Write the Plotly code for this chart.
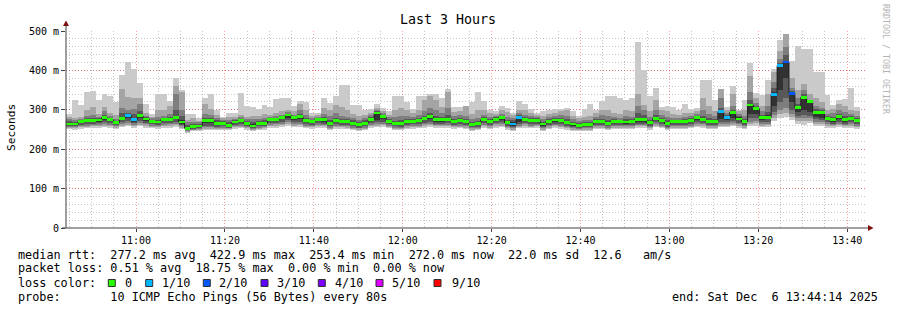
import plotly.graph_objects as go
from datetime import datetime, timedelta

# ---------------- data (ms) ----------------
START = datetime(2025, 12, 6, 10, 44, 14)
END = datetime(2025, 12, 6, 13, 44, 14)
STEP_S = 80

median = [264,264,270,272,273,274,280,275,267,278,
          286,275,285,277,270,269,275,276,280,269,
          253,258,259,272,272,265,265,261,269,272,
          266,259,265,266,275,276,280,287,280,283,
          273,270,275,275,266,272,270,270,266,262,
          266,276,292,283,271,265,265,270,271,273,
          278,283,275,275,276,270,273,270,263,265,
          275,270,276,280,268,264,280,276,273,273,
          264,270,274,272,268,264,261,263,263,270,
          270,266,270,270,269,270,275,275,268,278,
          273,265,270,270,270,273,280,276,270,270,
          295,281,294,277,270,312,303,280,280,339,
          412,421,342,306,332,321,294,294,278,275,
          283,275,278,272]

p10 = [290,324,313,346,348,325,341,334,319,389,
       422,404,369,315,290,341,341,323,381,351,
       289,289,279,331,340,300,283,292,292,342,
       310,307,303,313,308,327,329,329,310,322,
       320,293,292,330,317,336,363,363,312,312,
       300,302,314,304,298,334,334,320,302,336,
       336,341,341,330,352,308,307,310,321,344,
       323,300,296,310,304,293,323,315,302,293,
       296,300,302,302,304,296,285,302,315,300,
       323,336,334,331,325,329,473,400,334,355,
       307,310,308,300,315,302,304,376,376,325,
       353,308,361,300,325,420,342,338,376,403,
       476,493,425,462,455,455,396,396,338,313,
       325,327,355,308]

p9 = [281,280,282,300,306,289,308,293,286,352,
      333,330,330,292,283,300,300,310,360,345,
      275,278,272,315,302,288,278,282,281,288,
      282,285,284,290,288,292,296,300,296,315,
      300,284,286,305,300,312,308,300,290,285,
      287,292,304,296,288,300,305,300,292,300,
      325,334,325,308,346,294,296,310,290,300,
      300,291,290,300,294,286,300,300,292,287,
      285,290,293,298,300,285,278,282,284,292,
      300,300,292,290,300,296,340,312,296,326,
      300,296,290,288,292,292,296,330,310,296,
      353,300,340,296,300,385,330,310,340,395,
      450,493,380,350,365,340,330,320,300,303,
      315,310,300,296]

p8 = [276,274,277,284,287,282,296,284,276,304,
      300,303,314,284,278,281,285,290,340,300,
      268,270,268,290,286,280,274,274,277,281,
      276,276,276,280,282,284,288,294,288,300,
      286,278,281,290,285,292,285,282,280,275,
      279,286,300,291,282,282,285,285,283,286,
      298,305,300,292,304,284,286,284,276,280,
      286,283,285,290,282,279,292,288,284,282,
      276,281,285,286,284,276,272,274,275,282,
      286,285,282,280,284,283,310,300,283,300,
      288,282,280,280,282,284,289,300,290,284,
      330,293,310,290,285,345,318,296,310,370,
      430,460,355,330,350,325,310,305,290,292,
      300,295,290,285]

p7 = [271,270,274,278,280,278,286,279,271,292,
      291,289,296,281,274,275,280,282,300,285,
      262,265,265,280,280,274,271,269,274,277,
      272,268,271,274,279,280,284,290,284,290,
      279,274,278,282,275,280,277,276,273,269,
      273,282,297,288,277,272,274,276,277,279,
      285,292,285,282,288,277,280,277,270,272,
      281,277,281,285,275,274,288,282,279,278,
      270,276,280,279,276,270,267,269,269,276,
      277,274,276,275,276,276,292,288,275,288,
      280,273,275,275,276,278,285,285,278,277,
      305,288,300,285,277,325,310,288,295,355,
      420,440,348,316,340,323,302,300,284,283,
      290,284,284,278]

p6 = [267,267,272,275,276,276,282,277,269,283,
      288,280,288,279,272,272,277,278,284,274,
      257,261,262,277,277,269,268,265,272,275,
      269,263,268,270,277,278,282,289,282,286,
      276,272,277,278,270,275,273,273,269,265,
      269,279,295,286,274,268,268,273,274,276,
      281,287,279,278,280,273,276,273,266,268,
      278,273,279,283,271,268,285,279,276,276,
      267,273,277,275,271,267,264,266,266,273,
      273,270,273,273,272,273,279,278,271,283,
      276,268,273,273,273,276,283,280,274,274,
      298,285,297,282,274,316,306,284,286,345,
      416,425,345,310,335,322,298,297,281,279,
      286,279,281,275]

p5 = [262,261,266,268,269,270,275,271,264,274,
      279,270,280,272,267,266,271,272,276,265,
      250,255,256,266,266,261,261,258,266,268,
      263,256,262,263,271,272,276,280,274,277,
      269,266,271,270,262,268,266,266,262,258,
      262,272,275,276,267,262,261,266,267,269,
      273,277,270,270,271,266,269,266,259,261,
      271,266,272,275,264,260,268,272,269,269,
      260,266,270,268,264,260,257,259,259,266,
      266,262,266,266,265,266,270,270,264,274,
      269,261,266,266,266,269,275,272,266,266,
      276,274,280,273,266,290,290,275,276,310,
      350,380,320,295,300,295,282,280,273,270,
      277,270,273,268]

p4 = [259,258,262,264,265,266,268,266,261,268,
      272,266,272,267,263,262,266,267,270,261,
      248,252,253,260,260,257,258,255,262,264,
      259,253,258,259,266,267,270,273,268,270,
      264,262,266,265,258,263,262,261,258,255,
      258,266,268,270,263,258,257,262,263,264,
      267,270,265,265,266,262,264,262,256,257,
      266,262,267,269,260,256,263,267,264,265,
      256,262,265,263,260,256,254,256,256,262,
      262,258,262,262,261,262,265,265,260,268,
      264,257,262,262,262,264,269,267,262,262,
      268,268,272,267,262,278,280,269,270,295,
      320,330,300,285,288,285,276,274,268,265,
      270,265,268,263]

p3 = [256,256,259,260,261,262,264,262,258,264,
      266,262,266,263,260,259,262,263,265,258,
      246,250,251,256,256,254,255,253,259,260,
      256,251,255,256,262,263,265,268,264,265,
      260,259,262,261,255,259,259,258,255,253,
      255,262,264,265,260,255,254,258,259,260,
      263,265,261,261,262,259,260,258,253,254,
      262,258,263,264,257,253,260,263,260,261,
      253,258,261,259,257,253,251,253,253,258,
      258,255,258,258,258,258,261,261,257,264,
      260,254,258,258,258,260,264,263,258,258,
      264,264,266,263,258,270,272,264,265,286,
      300,305,290,278,280,278,270,268,263,261,
      265,261,263,259]

p2 = [254,253,256,257,258,259,260,258,255,260,
      262,259,262,259,257,256,259,259,261,255,
      244,248,249,252,252,251,252,251,256,257,
      253,249,252,253,258,259,261,263,260,261,
      257,256,259,258,252,256,256,255,252,250,
      252,258,260,261,257,252,251,255,256,257,
      259,261,258,258,258,256,257,255,250,251,
      258,255,259,260,254,250,257,259,257,258,
      250,255,258,256,254,250,248,250,250,255,
      255,252,255,255,255,255,258,258,254,260,
      257,251,255,255,255,257,260,259,255,255,
      260,260,262,259,255,264,266,260,261,280,
      290,292,282,272,272,272,265,263,259,258,
      261,258,259,256]

p1 = [251,250,252,253,254,255,256,254,252,256,
      258,255,258,255,253,252,255,255,257,251,
      242,245,246,248,248,248,249,248,252,253,
      250,246,249,250,254,255,257,259,256,257,
      253,252,255,254,249,252,252,251,248,246,
      249,254,256,257,253,249,248,251,252,253,
      255,257,254,254,254,252,253,251,247,248,
      254,251,255,256,250,246,253,255,253,254,
      247,251,254,252,250,246,245,247,247,251,
      251,248,251,251,251,251,254,254,250,256,
      253,248,251,251,251,253,256,255,251,251,
      256,256,258,255,251,258,260,256,257,272,
      280,283,274,265,262,266,259,258,255,254,
      257,254,255,252]

# lost pings (out of 10) per step
loss = [0,0,0,0,0,0,0,0,0,0,
        1,1,0,0,0,0,0,0,0,0,
        0,0,0,0,0,0,0,0,0,0,
        0,0,0,0,0,0,0,0,0,0,
        0,0,0,0,0,0,0,0,0,0,
        0,0,0,0,0,0,0,0,0,0,
        0,0,0,0,0,0,0,0,0,0,
        0,0,0,0,0,1,1,0,0,0,
        0,0,0,0,0,0,0,0,0,0,
        0,0,0,0,0,0,0,0,0,0,
        0,0,0,0,0,0,0,0,0,0,
        1,1,0,0,0,0,0,0,0,1,
        1,2,2,0,0,0,0,0,0,0,
        0,0,0,0]

loss_labels = ["0", "1/10", "2/10", "3/10", "4/10", "5/10", "9/10"]
loss_levels = [0, 1, 2, 3, 4, 5, 9]
loss_colors = ["#26ff00", "#00b8ff", "#0059ff", "#5e00ff", "#7e00ff", "#dd00ff", "#ff0000"]

y_tickvals = [0, 100, 200, 300, 400, 500]
y_ticktext = ["0", "100 m", "200 m", "300 m", "400 m", "500 m"]

stats_rtt = "median rtt:  277.2 ms avg  422.9 ms max  253.4 ms min  272.0 ms now  22.0 ms sd  12.6   am/s"
stats_loss = "packet loss: 0.51 % avg  18.75 % max  0.00 % min  0.00 % now"
probe_txt = "probe:       10 ICMP Echo Pings (56 Bytes) every 80s"
end_txt = "end: Sat Dec  6 13:44:14 2025"

# ---------------- geometry helpers (pixel -> paper) ----------------
L, R, T, B = 66, 866, 31, 228
W, H = 897, 310
def px(x):
    return (x - L) / (R - L)
def py(y):
    return (B - y) / (B - T)

n = len(median)
times = [START + timedelta(seconds=STEP_S * k) for k in range(n)]
step_ms = STEP_S * 1000

fig = go.Figure()

bands = [(p1, p10, "#cacaca"), (p2, p9, "#a4a4a4"), (p3, p8, "#7e7e7e"),
         (p4, p7, "#585858"), (p5, p6, "#323232")]
for lo, hi, col in bands:
    fig.add_trace(go.Bar(
        x=times, base=lo, y=[h - l for h, l in zip(hi, lo)],
        width=[step_ms] * n, offset=0,
        marker=dict(color=col, line=dict(width=0)),
        hoverinfo="skip", showlegend=False))

# black median step line
fig.add_trace(go.Scatter(
    x=times + [times[-1] + timedelta(seconds=STEP_S)],
    y=median + [median[-1]], mode="lines",
    line=dict(color="#202020", width=1, shape="hv"),
    hoverinfo="skip", showlegend=False))

# loss coloured median band (overlay axis so it is drawn on top)
SW = 3.4
cmap = dict(zip(loss_levels, loss_colors))
fig.add_trace(go.Bar(
    x=times, base=[m - SW for m in median], y=[2 * SW] * n,
    width=[step_ms] * n, offset=0, yaxis="y2",
    marker=dict(color=[cmap[l] for l in loss], line=dict(width=0)),
    hoverinfo="skip", showlegend=False))

MONO = "DejaVu Sans Mono"
RED_GRID = "rgba(255,0,0,0.38)"
GRAY_GRID = "rgba(150,150,150,0.55)"

fig.update_layout(
    width=W, height=H,
    margin=dict(l=L, r=W - R, t=T, b=H - B, pad=0),
    paper_bgcolor="white", plot_bgcolor="white",
    barmode="overlay", bargap=0, showlegend=False,
    font=dict(family=MONO, color="#000000"),
    xaxis=dict(
        type="date", range=[START, END],
        tickformat="%H:%M", dtick=1200000, tick0="2025-12-06 11:00:00",
        showgrid=True, gridcolor=RED_GRID, griddash="1px,2px", gridwidth=1,
        minor=dict(dtick=300000, tick0="2025-12-06 11:00:00", showgrid=True,
                   gridcolor=GRAY_GRID, griddash="1px,2px", gridwidth=1),
        ticks="outside", ticklen=3, tickcolor="#404040",
        tickfont=dict(family=MONO, size=10, color="#000000"),
        showline=False, zeroline=False, layer="above traces", fixedrange=True),
    yaxis=dict(
        range=[0, 500], tickvals=y_tickvals, ticktext=y_ticktext,
        showgrid=True, gridcolor=RED_GRID, griddash="1px,2px", gridwidth=1,
        minor=dict(dtick=20, tick0=0, showgrid=True,
                   gridcolor=GRAY_GRID, griddash="1px,2px", gridwidth=1),
        ticks="outside", ticklen=4, tickcolor="#404040",
        tickfont=dict(family=MONO, size=10, color="#000000"),
        showline=False, zeroline=False, layer="above traces", fixedrange=True),
    yaxis2=dict(range=[0, 500], overlaying="y", visible=False, fixedrange=True),
)

shapes = []
AX = "#404040"
ARROW = "#7f1010"
shapes.append(dict(type="line", xref="paper", yref="paper",
                   x0=0, x1=0, y0=0, y1=py(25), line=dict(color=AX, width=1)))
shapes.append(dict(type="line", xref="paper", yref="paper",
                   x0=px(62), x1=px(868), y0=0, y1=0, line=dict(color=AX, width=1)))
shapes.append(dict(type="path", xref="paper", yref="paper",
                   path=f"M {px(63)},{py(26)} L {px(69)},{py(26)} L {px(66)},{py(20.5)} Z",
                   fillcolor=ARROW, line=dict(color=ARROW, width=0)))
shapes.append(dict(type="path", xref="paper", yref="paper",
                   path=f"M {px(868)},{py(225)} L {px(868)},{py(231)} L {px(873.5)},{py(228)} Z",
                   fillcolor=ARROW, line=dict(color=ARROW, width=0)))

annotations = []
def ann(text, x, y, size, xanchor="left", color="#000000", angle=0):
    annotations.append(dict(text=text, x=px(x), y=py(y), xref="paper", yref="paper",
                            xanchor=xanchor, yanchor="middle", showarrow=False,
                            textangle=angle,
                            font=dict(family=MONO, size=size, color=color)))

nb = lambda s: s.replace(" ", "\u00a0")
FS = 11.8
ann("Last 3 Hours", 448, 19, 13.3, xanchor="center")
ann("Seconds", 11, 127, 11.2, xanchor="center", angle=-90)
ann(nb("RRDTOOL / TOBI OETIKER"), 886, 59, 8.3, xanchor="center", color="#b4b4b4", angle=90)
ann(nb(stats_rtt), 16, 254.7, FS)
ann(nb(stats_loss), 16, 268, FS)
ann(nb("loss color:"), 16, 282.7, FS)
label_x = [123.3, 160, 217.3, 275, 332.7, 390, 450]
box_x = [108.3, 145.7, 203.3, 261, 318.3, 376, 434]
for lab, col, lx, bx in zip(loss_labels, loss_colors, label_x, box_x):
    ann(lab, lx, 282.7, FS)
    shapes.append(dict(type="rect", xref="paper", yref="paper",
                       x0=px(bx), x1=px(bx + 7), y0=py(286.5), y1=py(279.5),
                       fillcolor=col, line=dict(color="#303030", width=1)))
ann(nb(probe_txt), 16, 296.7, FS)
ann(nb(end_txt), 880, 296.7, FS, xanchor="right")

fig.update_layout(shapes=shapes, annotations=annotations)
fig.write_html("out.html")
